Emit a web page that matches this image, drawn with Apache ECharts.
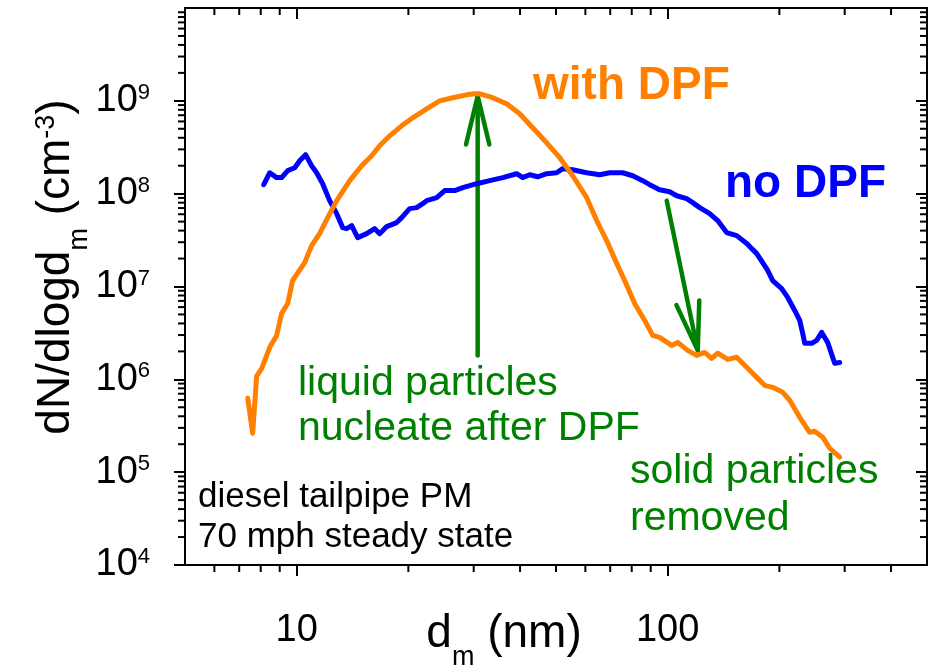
<!DOCTYPE html>
<html>
<head>
<meta charset="utf-8">
<script src="https://cdn.jsdelivr.net/npm/echarts@6/dist/echarts.min.js"></script>
<style>
  html, body { margin: 0; padding: 0; background: #fff; }
  #main { width: 935px; height: 670px; }
</style>
</head>
<body>
<div id="main"></div>
<script>
// axis ranges
var xMin = 5, xMax = 500;
var yMin = 1e4, yMax = 1e10;

// minor tick multipliers for the log axes
var minorSteps = [2, 3, 4, 5, 6, 7, 8, 9];
var xDecades = [1, 10, 100];
var yDecades = [1e4, 1e5, 1e6, 1e7, 1e8, 1e9];

// no DPF (blue)
var noDpfX = [8.15, 8.46, 8.83, 9.11, 9.46, 9.88, 10.19, 10.57, 10.97, 11.32, 11.75, 12.27, 12.82, 13.30, 13.64, 14.07, 14.60, 15.44, 16.23, 16.74, 17.48, 18.60, 19.19, 20.16, 21.06, 21.86, 22.41, 23.85, 25.06, 26.67, 28.03, 29.27, 30.57, 33.13, 35.92, 39.17, 40.66, 42.46, 44.63, 47.19, 50.22, 52.12, 55.46, 60.49, 65.56, 69.78, 75.62, 80.48, 85.63, 89.45, 95.1, 101.2, 105.8, 112.5, 116.8, 122.0, 129.8, 136.4, 144.2, 153.5, 163.3, 173.8, 180.3, 186.0, 191.9, 202.9, 210.6, 220.0, 226.9, 231.2, 234.1, 244.4, 252.1, 260.1, 269.9, 281.9, 290.8];
var noDpfY = [1.25e8, 1.68e8, 1.49e8, 1.49e8, 1.77e8, 1.90e8, 2.26e8, 2.63e8, 2.0e8, 1.68e8, 1.28e8, 8.41e7, 6.09e7, 4.31e7, 4.2e7, 4.53e7, 3.36e7, 3.71e7, 4.2e7, 3.71e7, 4.42e7, 4.88e7, 5.52e7, 6.9e7, 7.07e7, 7.8e7, 8.41e7, 9.06e7, 1.08e8, 1.08e8, 1.16e8, 1.22e8, 1.28e8, 1.38e8, 1.49e8, 1.64e8, 1.49e8, 1.60e8, 1.52e8, 1.64e8, 1.68e8, 1.86e8, 1.81e8, 1.68e8, 1.60e8, 1.68e8, 1.68e8, 1.56e8, 1.38e8, 1.25e8, 1.10e8, 1.05e8, 9.5e7, 8.83e7, 8.0e7, 7.07e7, 6.09e7, 5.13e7, 3.81e7, 3.53e7, 2.9e7, 2.26e7, 1.81e7, 1.49e7, 1.16e7, 9.5e6, 7.62e6, 5.52e6, 4.31e6, 3.12e6, 2.44e6, 2.44e6, 2.63e6, 3.2e6, 2.5e6, 1.49e6, 1.52e6];

// with DPF (orange)
var withDpfX = [7.38, 7.61, 7.80, 8.05, 8.46, 8.83, 9.11, 9.46, 9.75, 10.51, 10.97, 11.53, 12.12, 12.82, 13.90, 14.97, 15.93, 16.74, 17.81, 19.19, 20.54, 22.41, 24.29, 26.33, 28.72, 30.19, 31.14, 33.76, 36.81, 39.91, 43.27, 47.19, 51.17, 55.46, 60.49, 64.35, 68.48, 72.89, 76.57, 81.47, 86.7, 91.1, 95.1, 102.5, 106.4, 113.2, 119.7, 125.8, 131.4, 136.4, 145.1, 153.5, 163.3, 173.8, 182.6, 191.9, 204.2, 213.3, 226.9, 241.4, 249.0, 261.7, 273.3, 290.8];
var withDpfY = [6.25e5, 2.63e5, 1.08e6, 1.31e6, 2.21e6, 2.97e6, 5.13e6, 6.56e6, 1.16e7, 1.81e7, 2.76e7, 3.71e7, 5.52e7, 8.41e7, 1.38e8, 2.0e8, 2.56e8, 3.28e8, 4.2e8, 5.38e8, 6.56e8, 8.2e8, 1.0e9, 1.08e9, 1.16e9, 1.19e9, 1.19e9, 1.08e9, 9.29e8, 7.25e8, 5.13e8, 3.53e8, 2.44e8, 1.56e8, 9.06e7, 5.13e7, 3.12e7, 1.77e7, 1.16e7, 6.56e6, 4.31e6, 2.97e6, 2.83e6, 2.32e6, 2.5e6, 2.05e6, 1.81e6, 1.95e6, 1.68e6, 1.91e6, 1.64e6, 1.73e6, 1.35e6, 1.05e6, 8.62e5, 8.2e5, 7.25e5, 5.95e5, 3.9e5, 2.69e5, 2.76e5, 2.38e5, 1.81e5, 1.45e5];

// arrows: [xFrom, yFrom, xTo, yTo]
var arrows = [
  [30.75, 1.81e6, 30.75, 1.13e9],
  [99.4, 8.41e7, 120.5, 2.05e6]
];

var FONT = 'Liberation Sans, Arial, sans-serif';
var GREEN = '#008000';
var MAJOR_LEN = 11, MINOR_LEN = 7;

function pairs(xs, ys) {
  var out = [];
  for (var i = 0; i < xs.length; i++) out.push([xs[i], ys[i]]);
  return out;
}
function minorList(decades, lo, hi) {
  var out = [];
  decades.forEach(function (d) {
    minorSteps.forEach(function (s) {
      var v = d * s;
      if (v > lo * 1.0001 && v < hi * 0.9999) out.push(v);
    });
  });
  return out;
}
var xMinor = minorList(xDecades, xMin, xMax);
var yMinor = minorList(yDecades, yMin, yMax);

function isDecade(v) {
  var e = Math.log10(v);
  return Math.abs(e - Math.round(e)) < 1e-6;
}

var lineAxis = { lineStyle: { color: '#000', width: 2 } };

var myChart = echarts.init(document.getElementById('main'));
var option = {
  backgroundColor: '#fff',
  animation: false,
  grid: { left: 185, right: 8, top: 8, bottom: 105, outerBoundsMode: 'none' },
  xAxis: [
    {
      type: 'log', logBase: 10, min: xMin, max: xMax, position: 'bottom',
      axisLine: lineAxis,
      axisTick: { inside: false, length: MAJOR_LEN, lineStyle: { color: '#000', width: 2 } },
      splitLine: { show: false },
      axisLabel: {
        margin: 47, color: '#000', fontSize: 38, fontFamily: FONT,
        showMinLabel: false, showMaxLabel: false,
        formatter: function (v) { return isDecade(v) ? String(Math.round(v)) : ''; }
      }
    },
    {
      type: 'log', logBase: 10, min: xMin, max: xMax, position: 'top',
      axisLine: lineAxis,
      axisTick: { inside: true, length: MAJOR_LEN, lineStyle: { color: '#000', width: 2 } },
      splitLine: { show: false },
      axisLabel: { show: false }
    }
  ],
  yAxis: [
    {
      type: 'log', logBase: 10, min: yMin, max: yMax, position: 'left',
      axisLine: lineAxis,
      axisTick: { inside: false, length: MAJOR_LEN, lineStyle: { color: '#000', width: 2 } },
      splitLine: { show: false },
      axisLabel: {
        margin: 35, color: '#000', fontSize: 38, fontFamily: FONT,
        showMaxLabel: false,
        formatter: function (v) {
          if (!isDecade(v) || v >= yMax) return '';
          return '10{sup|' + Math.round(Math.log10(v)) + '}';
        },
        rich: { sup: { fontSize: 22, fontFamily: FONT, color: '#000', verticalAlign: 'top' } }
      }
    },
    {
      type: 'log', logBase: 10, min: yMin, max: yMax, position: 'right',
      axisLine: lineAxis,
      axisTick: { inside: true, length: MAJOR_LEN, lineStyle: { color: '#000', width: 2 } },
      splitLine: { show: false },
      axisLabel: { show: false }
    }
  ],
  series: [
    {
      // x minor ticks, bottom outward and top inward
      type: 'custom', silent: true, clip: false,
      data: xMinor.map(function (v) { return [v, yMin]; }),
      renderItem: function (params, api) {
        var cs = params.coordSys;
        var p = api.coord([api.value(0), api.value(1)]);
        var st = { stroke: '#000', lineWidth: 2 };
        return { type: 'group', children: [
          { type: 'line', shape: { x1: p[0], y1: cs.y + cs.height, x2: p[0], y2: cs.y + cs.height + MINOR_LEN }, style: st },
          { type: 'line', shape: { x1: p[0], y1: cs.y, x2: p[0], y2: cs.y + MINOR_LEN }, style: st }
        ] };
      }
    },
    {
      // y minor ticks, left outward and right inward
      type: 'custom', silent: true, clip: false,
      data: yMinor.map(function (v) { return [xMin, v]; }),
      renderItem: function (params, api) {
        var cs = params.coordSys;
        var p = api.coord([api.value(0), api.value(1)]);
        var st = { stroke: '#000', lineWidth: 2 };
        return { type: 'group', children: [
          { type: 'line', shape: { x1: cs.x - MINOR_LEN, y1: p[1], x2: cs.x, y2: p[1] }, style: st },
          { type: 'line', shape: { x1: cs.x + cs.width - MINOR_LEN, y1: p[1], x2: cs.x + cs.width, y2: p[1] }, style: st }
        ] };
      }
    },
    {
      name: 'no DPF', type: 'line', showSymbol: false, symbol: 'none',
      data: pairs(noDpfX, noDpfY),
      lineStyle: { color: '#0000ff', width: 5, cap: 'round', join: 'round' }
    },
    {
      name: 'with DPF', type: 'line', showSymbol: false, symbol: 'none',
      data: pairs(withDpfX, withDpfY),
      lineStyle: { color: '#ff8000', width: 5, cap: 'round', join: 'round' }
    },
    {
      // green arrows with open heads
      type: 'custom', silent: true, clip: false,
      encode: { x: [0, 2], y: [1, 3] },
      data: arrows,
      renderItem: function (params, api) {
        var a = api.coord([api.value(0), api.value(1)]);
        var b = api.coord([api.value(2), api.value(3)]);
        var ang = Math.atan2(a[1] - b[1], a[0] - b[0]);
        var len = 50, half = 13.5 * Math.PI / 180;
        var st = { stroke: GREEN, lineWidth: 4.5, lineCap: 'round', lineJoin: 'round', fill: null };
        return { type: 'group', children: [
          { type: 'line', shape: { x1: a[0], y1: a[1], x2: b[0], y2: b[1] }, style: st },
          { type: 'polyline', shape: { points: [
            [b[0] + len * Math.cos(ang + half), b[1] + len * Math.sin(ang + half)],
            [b[0], b[1]],
            [b[0] + len * Math.cos(ang - half), b[1] + len * Math.sin(ang - half)]
          ] }, style: st }
        ] };
      }
    }
  ],
  graphic: [
    { type: 'text', x: 533, y: 86, style: { text: 'with DPF', fill: '#ff8000', fontSize: 46, fontWeight: 'bold', fontFamily: FONT, align: 'left', verticalAlign: 'middle' } },
    { type: 'text', x: 725, y: 184, style: { text: 'no DPF', fill: '#0000ff', fontSize: 46, fontWeight: 'bold', fontFamily: FONT, align: 'left', verticalAlign: 'middle' } },
    { type: 'text', x: 298, y: 406, style: { text: 'liquid particles\nnucleate after DPF', fill: GREEN, fontSize: 41, lineHeight: 45, fontFamily: FONT, align: 'left', verticalAlign: 'middle' } },
    { type: 'text', x: 630, y: 495, style: { text: 'solid particles\nremoved', fill: GREEN, fontSize: 41, lineHeight: 47, fontFamily: FONT, align: 'left', verticalAlign: 'middle' } },
    { type: 'text', x: 198, y: 517, style: { text: 'diesel tailpipe PM\n70 mph steady state', fill: '#000', fontSize: 35, lineHeight: 40, fontFamily: FONT, align: 'left', verticalAlign: 'middle' } },
    { type: 'text', x: 504, y: 634, style: {
      text: 'd{sub|m} (nm)', fill: '#000', fontSize: 46, fontFamily: FONT, align: 'center', verticalAlign: 'middle',
      rich: { sub: { fontSize: 27, fontFamily: FONT, fill: '#000', color: '#000', verticalAlign: 'bottom', padding: [0, 0, -14, 0] } }
    } },
    { type: 'text', x: 56, y: 267, rotation: Math.PI / 2, style: {
      text: 'dN/dlogd{sub|m} (cm{sup|-3})', fill: '#000', fontSize: 46, fontFamily: FONT, align: 'center', verticalAlign: 'middle',
      rich: {
        sub: { fontSize: 27, fontFamily: FONT, fill: '#000', color: '#000', verticalAlign: 'bottom', padding: [0, 0, -14, 0] },
        sup: { fontSize: 27, fontFamily: FONT, fill: '#000', color: '#000', verticalAlign: 'top' }
      }
    } }
  ]
};
myChart.setOption(option);
</script>
</body>
</html>
